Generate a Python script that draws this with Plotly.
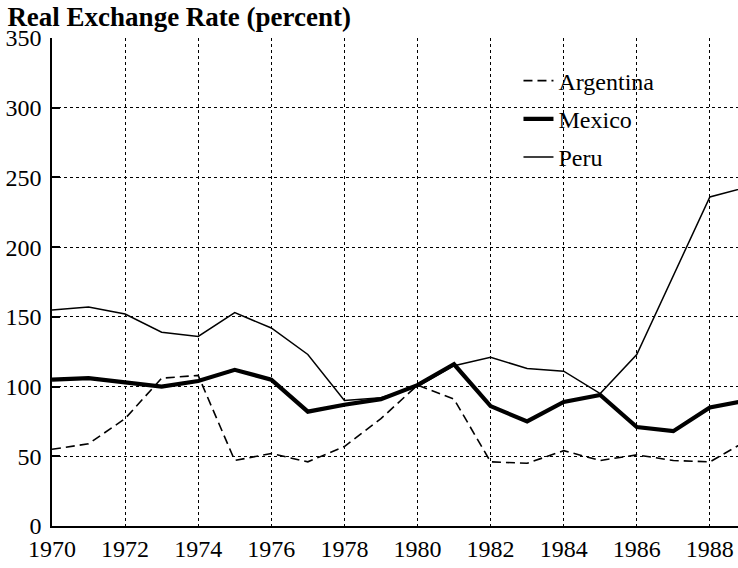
import plotly.graph_objects as go

years = list(range(1970, 1990))

argentina = [55, 59, 77, 106, 108, 47, 52, 46, 57, 77, 101, 91, 46, 45, 54, 47, 51, 47, 46, 61]
mexico = [105, 106, 103, 100, 104, 112, 105, 82, 87, 91, 101, 116, 86, 75, 89, 94, 71, 68, 85, 90]
peru = [155, 157, 152, 139, 136, 153, 142, 123, 90, 92, 100, 115, 121, 113, 111, 95, 123, 179, 236, 243]

x_ticks = list(range(1970, 1990, 2))
y_ticks = list(range(0, 351, 50))

FONT = "Liberation Serif"

fig = go.Figure()

series = [
    ("Argentina", argentina, dict(color="black", width=1.6, dash="9px,5px")),
    ("Mexico", mexico, dict(color="black", width=4.2)),
    ("Peru", peru, dict(color="black", width=1.5)),
]
for name, values, line in series:
    fig.add_trace(
        go.Scatter(
            x=years,
            y=values,
            mode="lines",
            name=name,
            line=line,
            legendgroup=name,
        )
    )

axis_style = dict(
    showgrid=True,
    gridcolor="black",
    gridwidth=1,
    griddash="dot",
    showline=True,
    linecolor="black",
    linewidth=1.5,
    zeroline=False,
    automargin=False,
    tickfont=dict(family=FONT, size=24, color="black"),
)
fig.update_xaxes(
    range=[1970, 1988.77],
    tickvals=x_ticks,
    ticktext=[str(t) for t in x_ticks],
    ticks="",
    **axis_style,
)
fig.update_yaxes(
    range=[0, 350],
    tickvals=y_ticks,
    ticks="inside",
    ticklen=8,
    tickcolor="black",
    tickwidth=1.5,
    ticklabelstandoff=4,
    **axis_style,
)

fig.update_layout(
    width=738,
    height=568,
    plot_bgcolor="white",
    paper_bgcolor="white",
    margin=dict(l=52, r=0, t=38, b=42),
    font=dict(family=FONT, color="black", size=24),
    title=dict(
        text="<b>Real Exchange Rate (percent)</b>",
        x=0.01,
        xanchor="left",
        y=0.971,
        yanchor="middle",
        font=dict(family=FONT, size=27, color="black"),
    ),
    legend=dict(
        x=0.68,
        y=0.958,
        xanchor="left",
        yanchor="top",
        bgcolor="rgba(0,0,0,0)",
        font=dict(family=FONT, size=24, color="black"),
        tracegroupgap=4,
        itemwidth=30,
    ),
)

# the page's default body margin would shift the figure by 8px
fig.write_html(
    "out.html",
    config={"displayModeBar": False},
    post_script="document.body.style.margin='0';",
)
